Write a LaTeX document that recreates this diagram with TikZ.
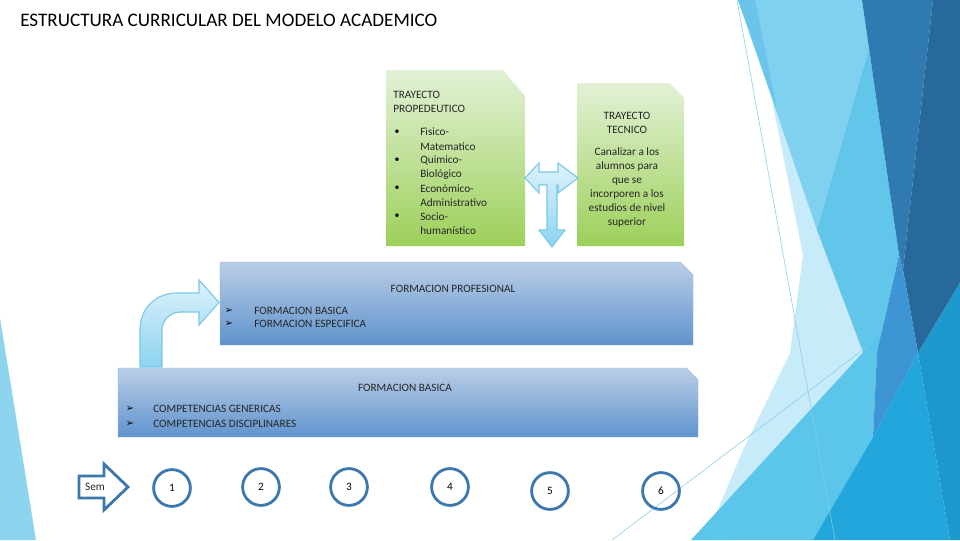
\documentclass[tikz,border=0pt]{standalone}
\usepackage{fontspec}
\setmainfont{Carlito}
\newfontfamily\symfont{DejaVu Sans}
\usetikzlibrary{positioning}

\definecolor{semblue}{HTML}{3C78AE}
\definecolor{greentop}{HTML}{E2F1D6}
\definecolor{greenbot}{HTML}{9DD05A}
\definecolor{bluetop}{HTML}{BACEE6}
\definecolor{bluebot}{HTML}{5F93CD}
\definecolor{arrowtop}{HTML}{DDF2FB}
\definecolor{arrowbot}{HTML}{8CD3F0}
\definecolor{arrowline}{HTML}{7BC8E8}
\definecolor{facetpale}{HTML}{C8EBF9}
\definecolor{facetlight}{HTML}{80D1F0}
\definecolor{facetstrip}{HTML}{6CC4EA}
\definecolor{facetmid}{HTML}{62C6EA}
\definecolor{facetdark}{HTML}{2F7AB0}
\definecolor{facetdeep}{HTML}{28699B}
\definecolor{facetsteel}{HTML}{3D95D3}
\definecolor{facetsky}{HTML}{5BC5EA}
\definecolor{facetbright}{HTML}{22A6DC}
\definecolor{facetocean}{HTML}{1D98CC}
\definecolor{facetline}{HTML}{86CDE9}
\definecolor{bgleft}{HTML}{8DD5EF}

\tikzset{
  txt/.style={inner sep=0pt, font=\fontsize{8}{10}\selectfont, text=black!85},
  greenbox/.style={top color=greentop, bottom color=greenbot},
  bluebox/.style={top color=bluetop, bottom color=bluebot, draw=bluebot!70, line width=0.3pt},
  lightarrow/.style={top color=arrowtop, bottom color=arrowbot, draw=arrowline, line width=0.8pt},
  semcirc/.style={circle, draw=semblue, line width=2pt, minimum size=0.92cm, inner sep=0pt,
    font=\fontsize{8}{10}\selectfont},
  chevron/.style={inner sep=0pt, font=\symfont\fontsize{7}{8}\selectfont},
  dotmark/.style={inner sep=0pt, font=\fontsize{7}{8}\selectfont}
}

\begin{document}
\begin{tikzpicture}[x=0.025cm,y=-0.025cm]
\useasboundingbox (0,0) rectangle (960,540);

% background facets
\fill[bgleft] (0,318) -- (36,540) -- (0,540) -- cycle;
\fill[facetpale] (772,100) -- (803,255) -- (790,353) -- (743,450) -- (705,540)
  -- (735,540) -- (863,352) -- (840,280) -- cycle;
\fill[facetlight] (738,0) -- (862,0) -- (869,48) -- (817,230) -- cycle;
\fill[facetstrip] (738,0) -- (755,0) -- (777,110) -- cycle;
\fill[facetmid] (869,48) -- (899,255) -- (877,353) -- (863,352) -- (817,230) -- cycle;
\fill[facetdark] (862,0) -- (933,0) -- (903,270) -- (899,255) -- cycle;
\fill[facetdeep] (933,0) -- (960,0) -- (960,283) -- (918,353) -- (903,270) -- cycle;
\fill[facetsky] (691,540) -- (900,312) -- (877,353) -- (873,437) -- (813,540) -- cycle;
\fill[facetsteel] (899,255) -- (903,270) -- (918,353) -- (873,437) -- (877,353) -- cycle;
\fill[facetbright] (813,540) -- (873,437) -- (918,353) -- (950,540) -- cycle;
\fill[facetocean] (918,353) -- (960,283) -- (960,540) -- (950,540) -- cycle;
\draw[facetline,line width=0.4pt] (737,0) -- (835,540);
\draw[facetline,line width=0.4pt] (612,540) -- (868,346);

% title
\node[anchor=west,inner sep=0pt,font=\fontsize{13.6}{15}\selectfont] (title) at (20,20)
  {ESTRUCTURA CURRICULAR DEL MODELO ACADEMICO};

% trayecto propedeutico
\path[greenbox] (386,70) -- (503,70) -- (525,96) -- (525,246) -- (386,246) -- cycle;
\node[txt,anchor=north west,align=left] (prop) at (393,91) {TRAYECTO\\PROPEDEUTICO};
\foreach \t [count=\i] in {Fìsico-,Matematico,Quimico-,Biológico,Económico-,Administrativo,Socio-,humanístico}
  \node[txt,anchor=west] (item\i) at (420,118+14.1*\i) {\t};
\foreach \i in {1,3,5,7}
  \node[dotmark] (dot\i) at (397,118+14.1*\i) {\textbullet};

% trayecto tecnico
\path[greenbox] (577,83) -- (670,83) -- (684,98) -- (684,246) -- (577,246) -- cycle;
\node[txt,align=center] (tect) at (627,123) {TRAYECTO\\TECNICO};
\node[txt,align=center] (tecd) at (627,187.5)
  {Canalizar a los\\alumnos para\\que se\\incorporen a los\\estudios de nivel\\superior};

% T arrow
\path[lightarrow] (525,178) -- (539,163) -- (539,172) -- (558,172) -- (558,163) -- (578,178)
  -- (558,193) -- (558,185) -- (557,185) -- (557,230) -- (565,230) -- (552,247)
  -- (539,230) -- (547,230) -- (547,185) -- (539,185) -- (539,193) -- cycle;

% formacion profesional
\path[bluebox] (220,262) -- (680,262) -- (693,275) -- (693,345) -- (220,345) -- cycle;
\node[txt] (fprof) at (453,289) {FORMACION PROFESIONAL};
\node[chevron] (chev1) at (229,311) {➢};
\node[chevron] (chev2) at (229,324) {➢};
\node[txt,anchor=west] (fpb) at (254,311) {FORMACION BASICA};
\node[txt,anchor=west] (fpe) at (254,324) {FORMACION ESPECIFICA};

% formacion basica
\path[bluebox] (118,368) -- (686,368) -- (698,380) -- (698,437) -- (118,437) -- cycle;
\node[txt] (fbas) at (405,388) {FORMACION BASICA};
\node[chevron] (chev3) at (130,409) {➢};
\node[chevron] (chev4) at (130,424) {➢};
\node[txt,anchor=west] (cgen) at (153,409) {COMPETENCIAS GENERICAS};
\node[txt,anchor=west] (cdis) at (153,424) {COMPETENCIAS DISCIPLINARES};

% bent arrow
\path[lightarrow] (140,367) -- (140,330) .. controls (140,308) and (156,293) .. (177,293)
  -- (199,293) -- (199,280) -- (219,302.5) -- (199,325) -- (199,312) -- (181,312)
  .. controls (170,312) and (162,320) .. (162,331) -- (162,367) -- cycle;

% semesters
\draw[semblue,line width=2pt,fill=white] (79,476) -- (104,476) -- (104,464) -- (128,487)
  -- (104,510) -- (104,498) -- (79,498) -- cycle;
\node[txt] (sem) at (95,487) {Sem};
\foreach \x/\y/\n in {172/488/1,261/487/2,349/487/3,450/487/4,550/491/5,661/491/6}
  \node[semcirc] (c\n) at (\x,\y) {\n};
\end{tikzpicture}
\end{document}
